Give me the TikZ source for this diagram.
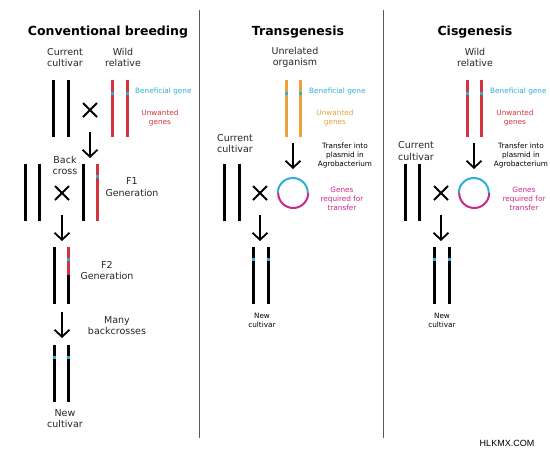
\documentclass[tikz,border=0pt]{standalone}
\usepackage{fontspec}
\setmainfont{DejaVu Sans}
\usetikzlibrary{arrows.meta}
\definecolor{chrred}{RGB}{212,52,62}
\definecolor{genecyan}{RGB}{45,175,215}
\definecolor{chrorange}{RGB}{236,160,60}
\definecolor{plasmag}{RGB}{205,40,140}
\definecolor{divgray}{RGB}{90,90,90}
\tikzset{
  chrom/.style={line width=3pt},
  genemark/.style={genecyan, line width=3pt},
  arr/.style={line width=1.8pt, -{Straight Barb[length=7pt,width=15pt,line width=1.8pt]}},
  xline/.style={line width=2pt},
  title/.style={font=\bfseries\fontsize{12.5}{15}\selectfont, inner sep=0pt},
  lab/.style={font=\fontsize{9.5}{11.5}\selectfont, align=center, inner sep=0pt, text=black!85},
  small/.style={font=\fontsize{7.3}{9}\selectfont, align=center, inner sep=0pt},
  divider/.style={divgray, line width=1pt},
  xmark/.pic={\draw[xline] (-7,-7)--(7,7) (-7,7)--(7,-7);}
}
\begin{document}
\begin{tikzpicture}[x=1pt,y=-1pt]
\useasboundingbox[fill=white] (0,0) rectangle (550,450);
\clip (0,0) rectangle (550,450);
% dividers
\coordinate (d1t) at (199,10); \coordinate (d1b) at (199,438);
\coordinate (d2t) at (383,10); \coordinate (d2b) at (383,438);
\draw[divider] (d1t) -- (d1b);
\draw[divider] (d2t) -- (d2b);

%% ===== Conventional breeding =====
\node[title] (t1) at (108,32) {Conventional breeding};
\node[lab] (cc1) at (65,57.5) {Current\\cultivar};
\node[lab] (wr1) at (123,57.5) {Wild\\relative};
\draw[chrom] (53,80) -- (53,137);
\draw[chrom] (68,80) -- (68,137);
\pic at (90,110) {xmark};
\draw[chrom, chrred] (112,80) -- (112,137);
\draw[chrom, chrred] (127,80) -- (127,137);
\draw[genemark] (112,91.5) -- (112,94.5);
\draw[genemark] (127,91.5) -- (127,94.5);
\node[small, text=genecyan, anchor=west] (bg1) at (135,91) {Beneficial gene};
\node[small, text=chrred] (ug1) at (160,118) {Unwanted\\genes};
\coordinate (a1s) at (90,132); \coordinate (a1e) at (90,158);
\draw[arr] (a1s) -- (a1e);
% back cross
\node[lab] (bc) at (65,165.5) {Back\\cross};
\draw[chrom] (25,164) -- (25,221);
\draw[chrom] (39,164) -- (39,221);
\pic at (62,193) {xmark};
\draw[chrom] (83,164) -- (83,221);
\draw[chrom, chrred] (97,164) -- (97,221);
\draw[genemark] (97,174.5) -- (97,177.5);
\node[lab] (f1) at (132,187) {F1\\Generation};
\coordinate (a2s) at (62,215); \coordinate (a2e) at (62,241);
\draw[arr] (a2s) -- (a2e);
% F2
\draw[chrom] (54,247) -- (54,304);
\draw[chrom, chrred] (68,247) -- (68,275);
\draw[chrom] (68,275) -- (68,304);
\draw[genemark] (68,257.5) -- (68,260.5);
\node[lab] (f2) at (107,270.5) {F2\\Generation};
\coordinate (a3s) at (62,312); \coordinate (a3e) at (62,338);
\draw[arr] (a3s) -- (a3e);
\node[lab] (mb) at (117,325.5) {Many\\backcrosses};
% new cultivar
\draw[chrom] (54,345) -- (54,402);
\draw[chrom] (68,345) -- (68,402);
\draw[genemark] (54,355.5) -- (54,358.5);
\draw[genemark] (68,355.5) -- (68,358.5);
\node[lab] (nc1) at (65,418.5) {New\\cultivar};

%% ===== Transgenesis =====
\node[title] (t2) at (298,32) {Transgenesis};
\node[lab] (uo) at (295,57.5) {Unrelated\\organism};
\draw[chrom, chrorange] (286,80) -- (286,137);
\draw[chrom, chrorange] (300,80) -- (300,137);
\draw[genemark] (286,91.5) -- (286,94.5);
\draw[genemark] (300,91.5) -- (300,94.5);
\node[small, text=genecyan, anchor=west] (bg2) at (309,91) {Beneficial gene};
\node[small, text=chrorange] (ug2) at (335,118) {Unwanted\\genes};
\node[lab] (cc2) at (235,143.5) {Current\\cultivar};
\coordinate (a4s) at (293,143); \coordinate (a4e) at (293,169);
\draw[arr] (a4s) -- (a4e);
\node[small] (tr2) at (345,155) {Transfer into\\plasmid in\\Agrobacterium};
\draw[chrom] (224,164) -- (224,221);
\draw[chrom] (239,164) -- (239,221);
\pic at (260,193) {xmark};
\node[circle, minimum size=30pt, inner sep=0pt] (pl2) at (293,193) {};
\draw[genecyan, line width=2pt] (pl2.west) arc[start angle=180, end angle=360, radius=15];
\draw[plasmag, line width=2pt] (pl2.east) arc[start angle=0, end angle=180, radius=15];
\node[small, text=plasmag] (gr2) at (342,199) {Genes\\required for\\transfer};
\coordinate (a5s) at (260,215); \coordinate (a5e) at (260,241);
\draw[arr] (a5s) -- (a5e);
\draw[chrom] (253,247) -- (253,304);
\draw[chrom] (268,247) -- (268,304);
\draw[genemark] (253,257.5) -- (253,260.5);
\draw[genemark] (268,257.5) -- (268,260.5);
\node[small] (nc2) at (262,320) {New\\cultivar};

%% ===== Cisgenesis =====
\node[title] (t3) at (475,32) {Cisgenesis};
\node[lab] (wr3) at (475,57.5) {Wild\\relative};
\draw[chrom, chrred] (467,80) -- (467,137);
\draw[chrom, chrred] (481,80) -- (481,137);
\draw[genemark] (467,91.5) -- (467,94.5);
\draw[genemark] (481,91.5) -- (481,94.5);
\node[small, text=genecyan, anchor=west] (bg3) at (490,91) {Beneficial gene};
\node[small, text=chrred] (ug3) at (515,118) {Unwanted\\genes};
\node[lab] (cc3) at (416,151) {Current\\cultivar};
\coordinate (a6s) at (474,143); \coordinate (a6e) at (474,169);
\draw[arr] (a6s) -- (a6e);
\node[small] (tr3) at (521,155) {Transfer into\\plasmid in\\Agrobacterium};
\draw[chrom] (405,164) -- (405,221);
\draw[chrom] (419,164) -- (419,221);
\pic at (441,193) {xmark};
\node[circle, minimum size=30pt, inner sep=0pt] (pl3) at (474,193) {};
\draw[genecyan, line width=2pt] (pl3.west) arc[start angle=180, end angle=360, radius=15];
\draw[plasmag, line width=2pt] (pl3.east) arc[start angle=0, end angle=180, radius=15];
\node[small, text=plasmag] (gr3) at (524,199) {Genes\\required for\\transfer};
\coordinate (a7s) at (441,215); \coordinate (a7e) at (441,241);
\draw[arr] (a7s) -- (a7e);
\draw[chrom] (434,247) -- (434,304);
\draw[chrom] (449,247) -- (449,304);
\draw[genemark] (434,257.5) -- (434,260.5);
\draw[genemark] (449,257.5) -- (449,260.5);
\node[small] (nc3) at (442,320) {New\\cultivar};

% watermark
\node[font=\fontspec{Liberation Sans}\fontsize{9}{10}\selectfont, inner sep=0pt] (wm) at (507,443) {HLKMX.COM};
\end{tikzpicture}
\end{document}
